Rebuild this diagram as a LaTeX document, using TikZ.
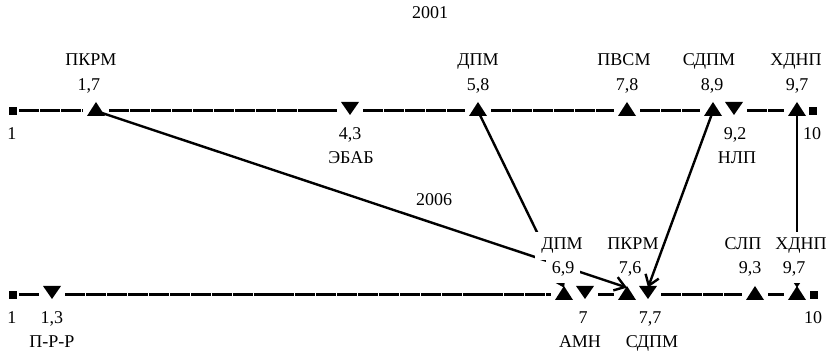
\documentclass[tikz,border=0pt]{standalone}
\usepackage{fontspec}
\setmainfont{Liberation Serif}
\usetikzlibrary{arrows.meta}
\begin{document}
\begin{tikzpicture}[x=0.5pt,y=-0.5pt,
  font=\fontsize{9}{10.8}\selectfont,
  mk/.style={rectangle, inner sep=0pt, minimum width=13pt, minimum height=7pt},
  sq/.style={rectangle, fill=black, inner sep=0pt, minimum size=3.8pt, outer sep=1.2pt},
  axisline/.style={line width=1.5pt, dash pattern=on 10pt off 0.45pt},
  conn/.style={line width=1.2pt, -{Straight Barb[length=5pt,width=7pt,line width=1.2pt]}},
  lbl/.style={inner sep=3pt, anchor=base},
  lblm/.style={lbl, fill=white}
]
\useasboundingbox (0,0) rectangle (832,357);
% top axis markers
\node[sq] (sa) at (13,111) {};
\node[mk] (ta) at (96,111) {};
\node[mk] (tb) at (350,111) {};
\node[mk] (tc) at (478,111) {};
\node[mk] (td) at (627,111) {};
\node[mk] (te) at (713,111) {};
\node[mk] (tf) at (734,111) {};
\node[mk] (tg) at (797,111) {};
\node[sq] (sb) at (813,111) {};
% bottom axis markers
\node[sq] (sc) at (13,295) {};
\node[mk] (ba) at (52,295) {};
\node[mk] (bb) at (564,295) {};
\node[mk] (bc) at (585,295) {};
\node[mk] (bd) at (627,295) {};
\node[mk] (be) at (648,295) {};
\node[mk] (bf) at (755,295) {};
\node[mk] (bg) at (797,295) {};
\node[sq] (sd) at (814,295) {};
% axes
\draw[axisline] (sa) -- (ta) -- (tb) -- (tc) -- (td) -- (te);
\draw[axisline] (tf) -- (tg);
\draw[axisline] (sc) -- (ba) -- (bb);
\draw[axisline] (bc) -- (bd);
\draw[axisline] (be) -- (bf) -- (bg);
% connectors
\draw[conn] (ta.center) -- (bd.north);
\draw[conn] (tc.center) -- (bb.north);
\draw[conn] (te.center) -- (be.north);
\draw[conn] (tg.center) -- (bg.north);
% labels
\node[lbl] (y1) at (430,19) {2001};
\node[lbl] (y2) at (434,206) {2006};
\node[lbl] (n1) at (91,66) {ПКРМ};
\node[lbl] (n2) at (478,66) {ДПМ};
\node[lbl] (n3) at (624,66) {ПВСМ};
\node[lbl] (n4) at (709,66) {СДПМ};
\node[lbl] (n5) at (796,66) {ХДНП};
\node[lbl] (v1) at (89,91) {1,7};
\node[lbl] (v2) at (478,91) {5,8};
\node[lbl] (v3) at (627,91) {7,8};
\node[lbl] (v4) at (712,91) {8,9};
\node[lbl] (v5) at (797,91) {9,7};
\node[lbl] (w1) at (12,140) {1};
\node[lbl] (w2) at (350,140) {4,3};
\node[lbl] (w3) at (735,140) {9,2};
\node[lbl] (w4) at (812,140) {10};
\node[lbl] (m1) at (351,164) {ЭБАБ};
\node[lbl] (m2) at (737,164) {НЛП};
\node[lblm] (p1) at (562,250) {ДПМ};
\node[lbl] (p2) at (633,250) {ПКРМ};
\node[lbl] (p3) at (743,250) {СЛП};
\node[lblm] (p4) at (801,250) {ХДНП};
\node[lblm] (q1) at (563,274) {6,9};
\node[lbl] (q2) at (630,274) {7,6};
\node[lbl] (q3) at (750,274) {9,3};
\node[lblm] (q4) at (794,274) {9,7};
\node[lbl] (r1) at (12,324) {1};
\node[lbl] (r2) at (52,324) {1,3};
\node[lbl] (r3) at (583,324) {7};
\node[lbl] (r4) at (650,324) {7,7};
\node[lbl] (r5) at (813,324) {10};
\node[lbl] (s1) at (52,348) {П-Р-Р};
\node[lbl] (s2) at (580,348) {АМН};
\node[lbl] (s3) at (652,348) {СДПМ};
% triangles
\foreach \n in {ta,tc,td,te,tg,bb,bd,bf,bg}
  \fill ([xshift=-4.5pt,yshift=-2.5pt]\n.center) -- ([xshift=4.5pt,yshift=-2.5pt]\n.center) -- ([yshift=4.5pt]\n.center) -- cycle;
\foreach \n in {tb,tf,ba,bc,be}
  \fill ([xshift=-4.5pt,yshift=4.5pt]\n.center) -- ([xshift=4.5pt,yshift=4.5pt]\n.center) -- ([yshift=-2pt]\n.center) -- cycle;
\end{tikzpicture}
\end{document}
